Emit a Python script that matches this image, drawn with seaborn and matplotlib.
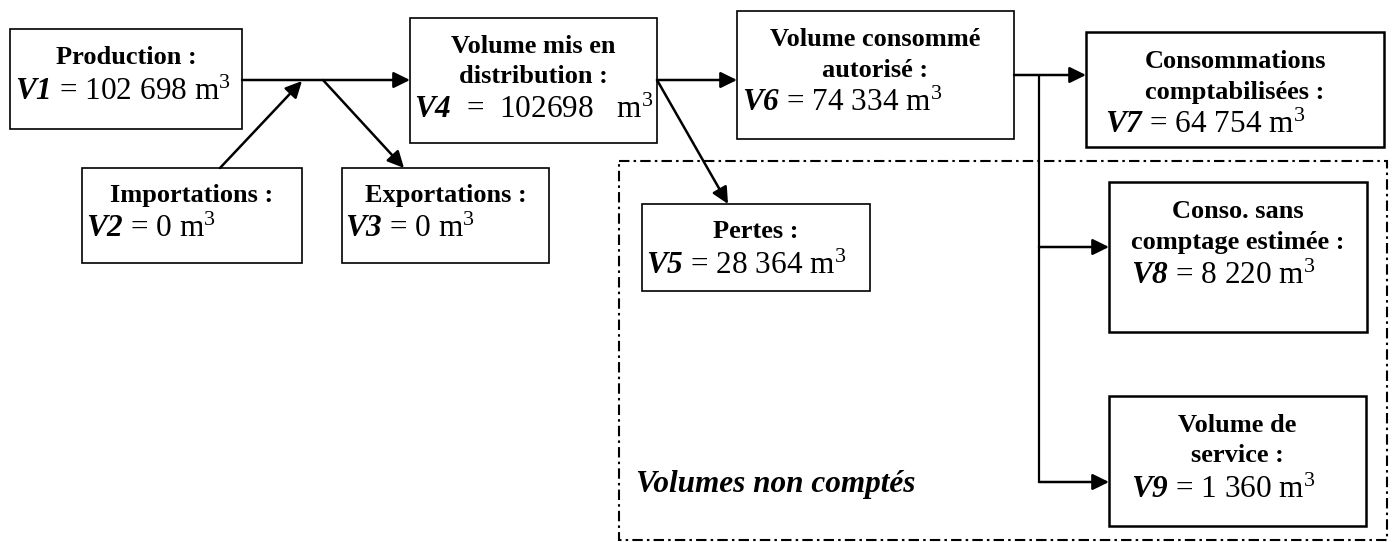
import matplotlib
matplotlib.use("Agg")
import matplotlib.pyplot as plt
import seaborn as sns
from matplotlib.patches import Rectangle

# ---------------- data ----------------
variables = ["V1", "V2", "V3", "V4", "V5", "V6", "V7", "V8", "V9"]
values = ["102 698", "0", "0", "102698", "28 364", "74 334", "64 754", "8 220", "1 360"]
titles = [
    ["Production :"],
    ["Importations :"],
    ["Exportations :"],
    ["Volume mis en", "distribution :"],
    ["Pertes :"],
    ["Volume consommé", "autorisé :"],
    ["Consommations", "comptabilisées :"],
    ["Conso. sans", "comptage estimée :"],
    ["Volume de", "service :"],
]
unit = "m"
group_label = "Volumes non comptés"

# ---------------- layout (pixels) ----------------
boxes = [  # x0, y0, x1, y1
    (10, 29, 242, 129),
    (82, 168, 302, 263),
    (342, 168, 549, 263),
    (410, 18, 657, 143),
    (642, 204, 870, 291),
    (737, 11, 1014, 139),
    (1086, 32, 1384, 147),
    (1109, 182, 1367, 332),
    (1109, 396, 1366, 526),
]
box_lw = [1.2, 1.2, 1.2, 1.2, 1.2, 1.2, 1.8, 1.8, 1.8]
title_baselines = [[64], [202], [202], [53, 83], [238], [46, 77], [68, 99], [218, 249], [432, 462]]
value_pos = [(15, 100), (86, 237), (345, 237), (414, 118), (646, 274),
             (742, 111), (1105, 133), (1131, 284), (1131, 498)]
value_eq = [" = "] * 9
value_eq[3] = "  =  "
value_sp = [" "] * 9
value_sp[3] = "   "

arrows = [((242, 80), (410, 80)), ((220, 168), (302, 81)), ((323, 80), (404, 168)),
          ((657, 80), (737, 80)), ((657, 80), (728, 204)), ((1014, 75), (1086, 75)),
          ((1039, 247), (1109, 247)), ((1039, 482), (1109, 482))]
lines = [((1039, 75), (1039, 482))]
dash_box = (619, 161, 1387, 540)

# ---------------- style ----------------
sns.set_theme(style="white")
plt.rcParams["font.family"] = ["Liberation Serif", "DejaVu Serif"]
plt.rcParams["text.color"] = "black"
plt.rcParams["mathtext.fontset"] = "custom"
plt.rcParams["mathtext.rm"] = "Liberation Serif"
plt.rcParams["mathtext.it"] = "Liberation Serif:italic"
plt.rcParams["mathtext.bf"] = "Liberation Serif:bold"
plt.rcParams["mathtext.bfit"] = "Liberation Serif:bold:italic"

fig = plt.figure(figsize=(13.92, 5.42), dpi=100)
ax = fig.add_axes([0, 0, 1, 1])
ax.set_xlim(0, 1392)
ax.set_ylim(542, 0)
ax.axis("off")

TITLE_FS = 19
VALUE_FS = 22.5

# dashed group frame
x0, y0, x1, y1 = dash_box
ax.add_patch(Rectangle((x0, y0), x1 - x0, y1 - y0, fill=False, ec="black",
                       lw=1.5, ls=(0, (5, 2, 1.2, 2)), zorder=1))
ax.text(636, 492, group_label, fontsize=VALUE_FS, fontweight="bold", fontstyle="italic",
        ha="left", va="baseline", color="black")

# boxes and text
for i, (bx0, by0, bx1, by1) in enumerate(boxes):
    ax.add_patch(Rectangle((bx0, by0), bx1 - bx0, by1 - by0, fc="white", ec="black",
                           lw=box_lw[i], zorder=2))
    cx = (bx0 + bx1) / 2
    for line, yb in zip(titles[i], title_baselines[i]):
        ax.text(cx, yb, line, fontsize=TITLE_FS, fontweight="bold", ha="center",
                va="baseline", zorder=3, color="black")
    vx, vy = value_pos[i]
    s = rf"$\mathbfit{{{variables[i]}}}${value_eq[i]}{values[i]}{value_sp[i]}{unit}$^\mathrm{{3}}$"
    ax.text(vx, vy, s, fontsize=VALUE_FS, ha="left", va="baseline", zorder=3, color="black")

# connectors
for (xa, ya), (xb, yb) in lines:
    ax.plot([xa, xb], [ya, yb], color="black", lw=1.6, zorder=1.5)
for start, end in arrows:
    ax.annotate("", xy=end, xytext=start, zorder=4,
                arrowprops=dict(arrowstyle="-|>,head_length=0.55,head_width=0.27",
                                mutation_scale=18, color="black", lw=1.8,
                                shrinkA=0, shrinkB=0))

fig.savefig("out.png", dpi=100)
